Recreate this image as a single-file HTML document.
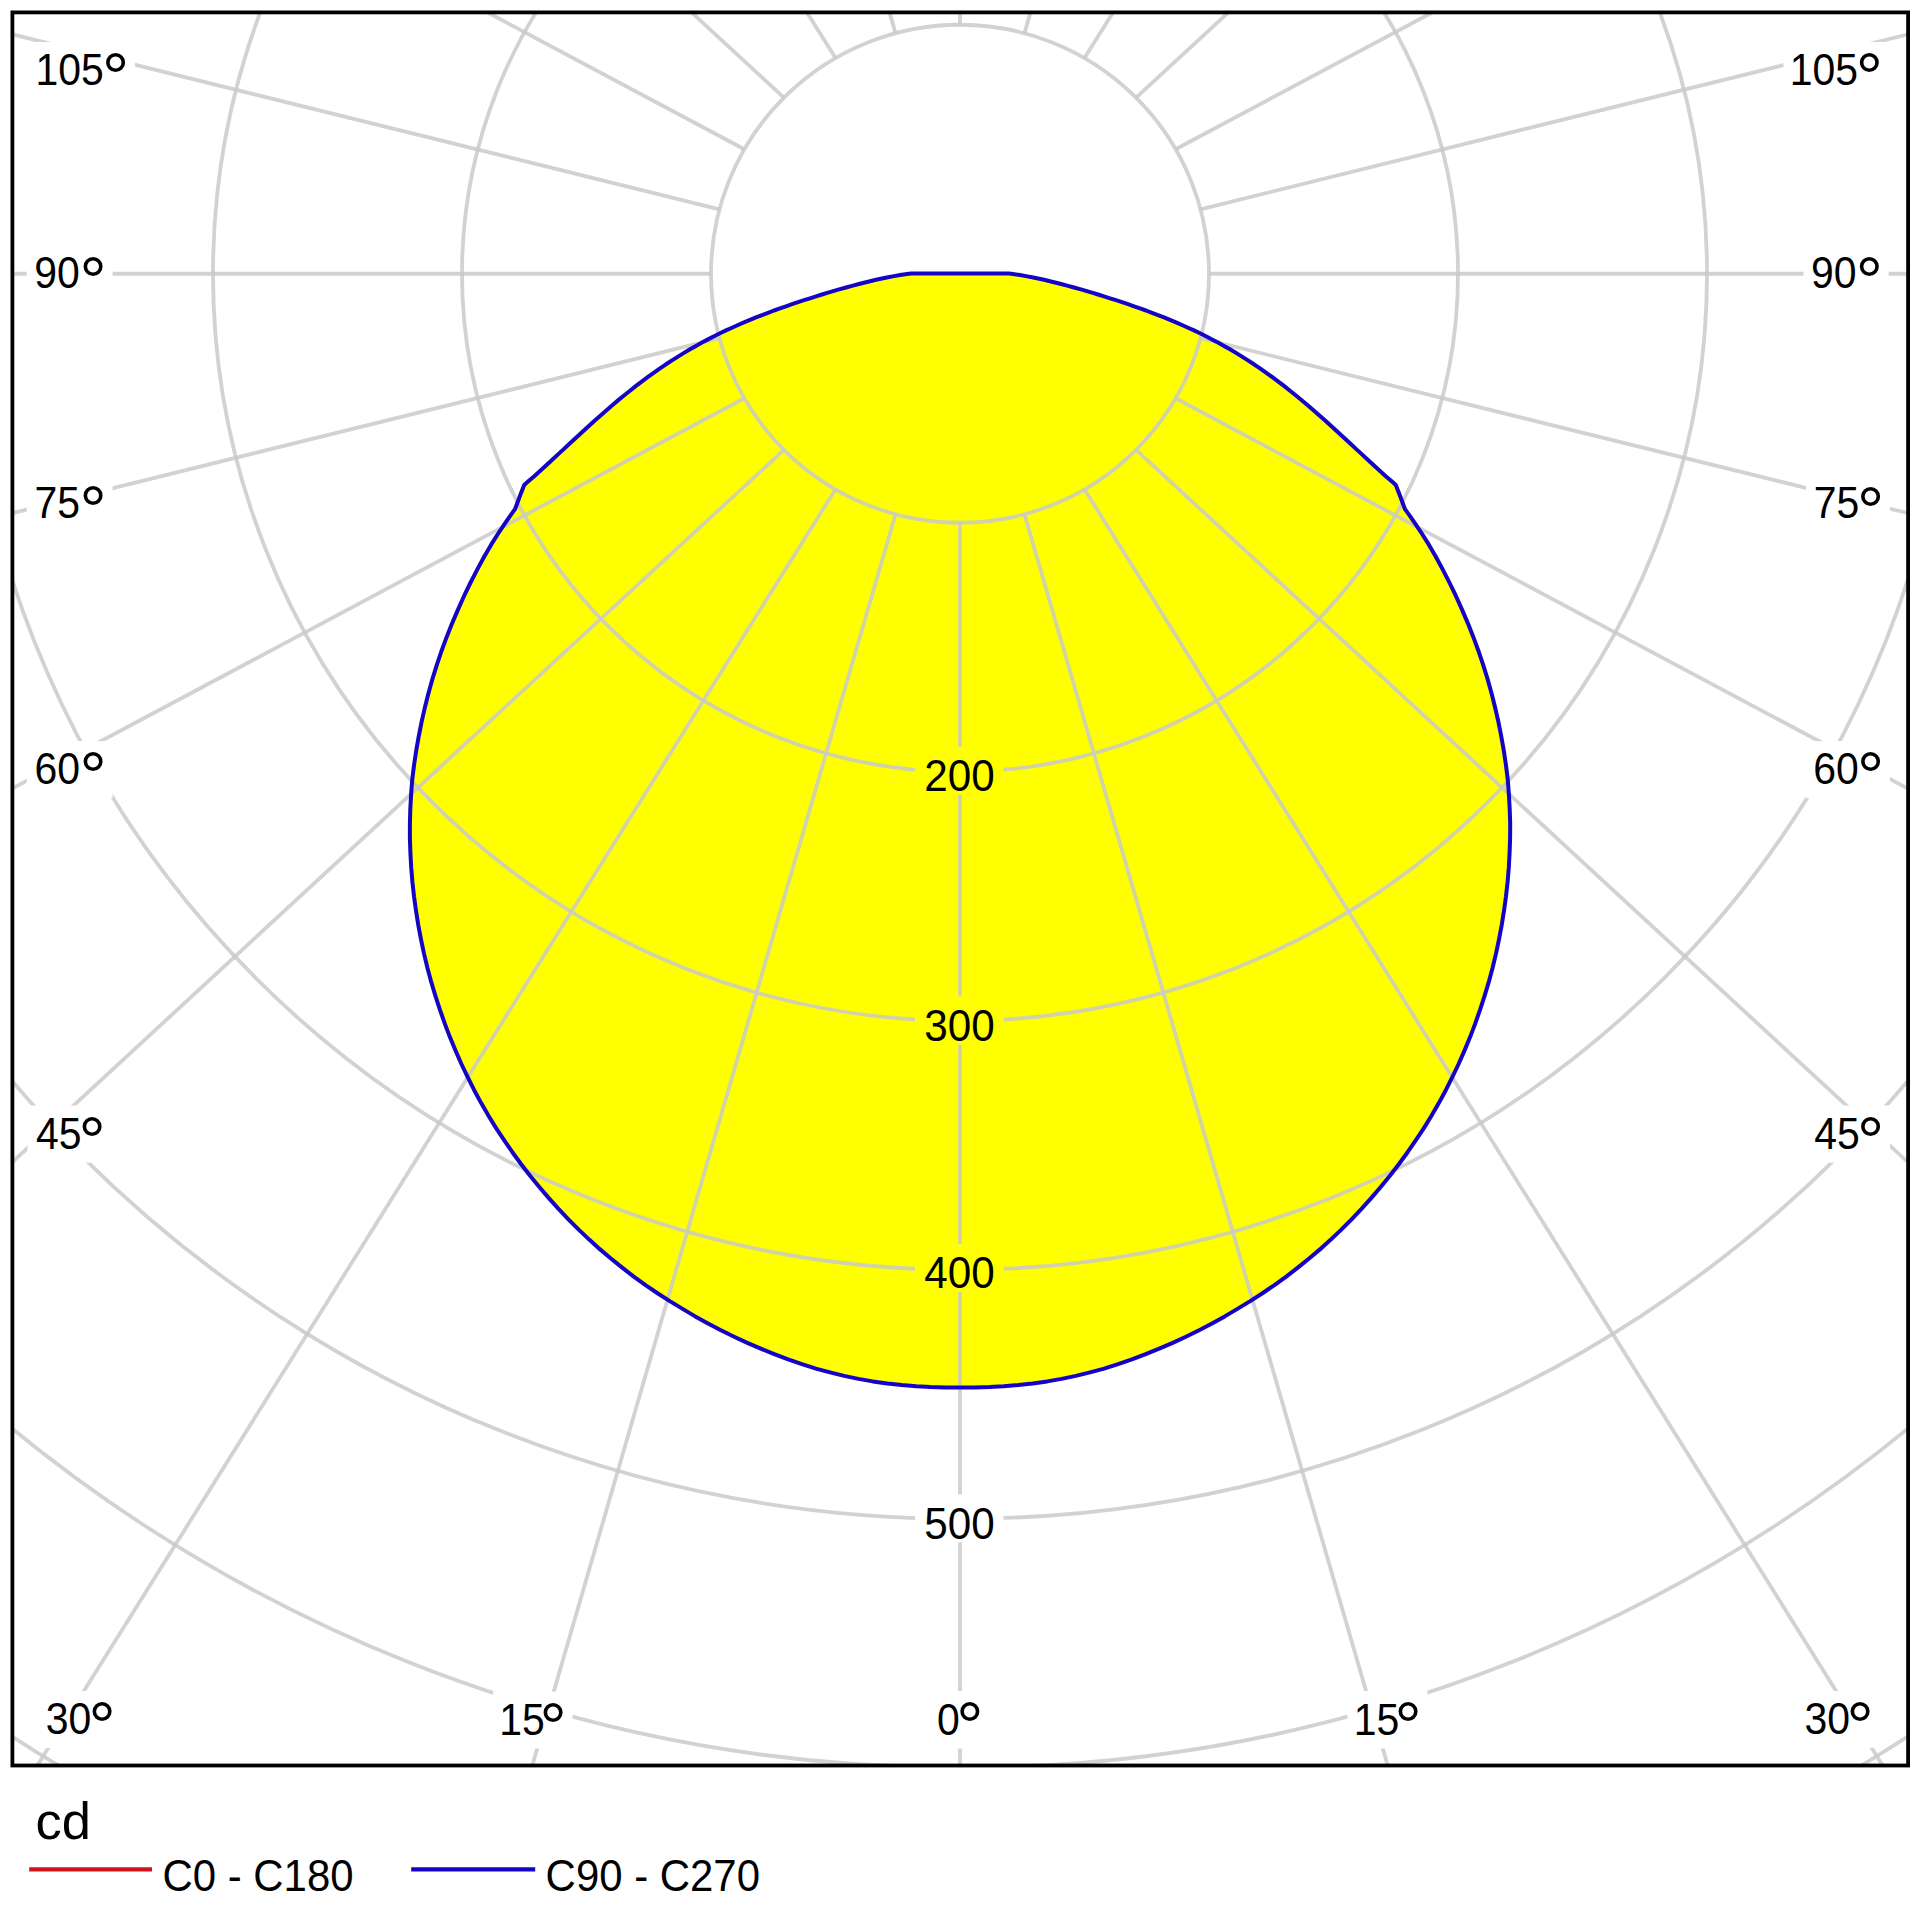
<!DOCTYPE html>
<html lang="en"><head><meta charset="utf-8"><title>Polar light distribution</title>
<style>html,body{margin:0;padding:0;background:#fff}body{width:1920px;height:1920px;overflow:hidden}svg{display:block}text{font-family:"Liberation Sans", sans-serif;fill:#000}</style>
</head><body>
<svg width="1920" height="1920" viewBox="0 0 1920 1920">
<defs>
<clipPath id="fr"><rect x="12.4" y="12.4" width="1895.7" height="1753.1"/></clipPath>
<mask id="lm" maskUnits="userSpaceOnUse" x="0" y="0" width="1920" height="1920"><rect x="0" y="0" width="1920" height="1920" fill="#fff"/>
<rect x="29.2" y="42.0" width="105.8" height="57.0" fill="#000"/>
<rect x="26.8" y="245.5" width="85.8" height="56.6" fill="#000"/>
<rect x="26.8" y="475.3" width="85.8" height="56.8" fill="#000"/>
<rect x="26.8" y="741.1" width="85.8" height="56.8" fill="#000"/>
<rect x="27.4" y="1105.5" width="84.1" height="57.2" fill="#000"/>
<rect x="38.0" y="1691.0" width="83.5" height="57.0" fill="#000"/>
<rect x="493.0" y="1691.5" width="79.5" height="57.0" fill="#000"/>
<rect x="929.2" y="1691.0" width="60.1" height="57.5" fill="#000"/>
<rect x="1347.5" y="1691.0" width="80.0" height="57.5" fill="#000"/>
<rect x="1796.8" y="1691.0" width="82.8" height="56.8" fill="#000"/>
<rect x="1805.5" y="1105.5" width="84.5" height="57.2" fill="#000"/>
<rect x="1805.5" y="741.1" width="84.5" height="56.8" fill="#000"/>
<rect x="1806.1" y="475.5" width="83.9" height="56.4" fill="#000"/>
<rect x="1803.5" y="245.5" width="85.2" height="56.6" fill="#000"/>
<rect x="1783.5" y="42.0" width="105.2" height="57.0" fill="#000"/>
<rect x="915.0" y="746.8" width="88.5" height="48.0" fill="#000"/>
<rect x="915.0" y="996.5" width="88.5" height="48.0" fill="#000"/>
<rect x="915.0" y="1244.2" width="88.5" height="48.0" fill="#000"/>
<rect x="915.0" y="1494.4" width="88.5" height="48.0" fill="#000"/>
</mask></defs>
<rect x="0" y="0" width="1920" height="1920" fill="#fff"/>
<polygon points="910.8,273.5 900.0,275.0 894.0,276.1 888.0,277.2 882.0,278.5 876.0,279.8 870.0,281.2 864.0,282.7 858.0,284.3 852.0,285.9 846.0,287.5 840.0,289.2 834.0,290.9 828.0,292.7 822.0,294.5 816.0,296.4 810.0,298.3 804.0,300.2 798.0,302.2 792.0,304.2 786.0,306.3 780.0,308.4 774.0,310.5 768.0,312.8 762.0,315.1 756.0,317.4 750.0,319.9 744.0,322.4 738.0,325.0 732.0,327.7 726.0,330.4 720.0,333.3 714.0,336.3 708.0,339.4 702.0,342.6 696.0,345.9 690.0,349.3 684.0,352.9 678.0,356.6 672.0,360.4 666.0,364.3 660.0,368.4 654.0,372.6 648.0,376.9 642.0,381.4 636.0,385.9 630.0,390.7 624.0,395.5 618.0,400.4 612.0,405.5 606.0,410.7 600.0,415.9 594.0,421.3 588.0,426.7 582.0,432.2 576.0,437.7 570.0,443.3 564.0,448.9 558.0,454.4 552.0,460.0 546.0,465.5 540.0,471.0 534.0,476.4 528.0,481.6 524.2,485.0 520.0,495.8 515.0,509.2 507.7,519.3 499.3,531.8 491.3,544.4 484.0,557.0 477.2,569.6 470.6,582.5 464.2,595.7 458.2,609.1 452.4,622.6 446.9,636.4 441.8,650.2 437.0,664.3 432.6,678.4 428.6,692.7 425.0,707.0 421.7,721.4 418.8,736.0 416.2,750.7 414.0,765.4 412.2,780.1 411.1,794.7 410.3,809.3 409.9,823.9 409.9,838.4 410.4,852.9 411.2,867.4 412.4,881.9 414.0,896.3 416.0,910.7 418.3,925.1 421.0,939.4 424.0,953.6 427.4,967.8 431.2,981.9 435.4,995.8 439.9,1009.7 444.7,1023.4 449.9,1037.1 455.5,1050.6 461.4,1064.0 467.7,1077.2 474.2,1090.2 481.2,1103.1 488.5,1115.7 496.1,1128.1 504.1,1140.2 512.4,1152.2 521.0,1164.0 529.9,1175.5 539.1,1186.8 548.6,1197.9 558.3,1208.7 568.4,1219.3 578.7,1229.6 589.2,1239.6 600.1,1249.4 611.2,1258.8 622.5,1267.9 634.1,1276.8 645.9,1285.3 657.9,1293.5 670.2,1301.4 682.6,1308.9 695.2,1316.4 708.0,1323.5 720.9,1330.2 734.1,1336.7 747.3,1342.9 760.8,1348.7 774.3,1354.2 788.1,1359.4 801.9,1364.1 815.9,1368.6 830.0,1372.4 844.2,1375.9 858.4,1378.9 872.8,1381.4 887.3,1383.5 901.8,1385.1 916.3,1386.3 930.8,1387.1 945.4,1387.5 960.0,1387.5 960.0,1387.5 960.0,1387.5 974.6,1387.5 989.2,1387.1 1003.7,1386.3 1018.2,1385.1 1032.7,1383.5 1047.2,1381.4 1061.6,1378.9 1075.8,1375.9 1090.0,1372.4 1104.1,1368.6 1118.1,1364.1 1131.9,1359.4 1145.7,1354.2 1159.2,1348.7 1172.7,1342.9 1185.9,1336.7 1199.1,1330.2 1212.0,1323.5 1224.8,1316.4 1237.4,1308.9 1249.8,1301.4 1262.1,1293.5 1274.1,1285.3 1285.9,1276.8 1297.5,1267.9 1308.8,1258.8 1319.9,1249.4 1330.8,1239.6 1341.3,1229.6 1351.6,1219.3 1361.7,1208.7 1371.4,1197.9 1380.9,1186.8 1390.1,1175.5 1399.0,1164.0 1407.6,1152.2 1415.9,1140.2 1423.9,1128.1 1431.5,1115.7 1438.8,1103.1 1445.8,1090.2 1452.3,1077.2 1458.6,1064.0 1464.5,1050.6 1470.1,1037.1 1475.3,1023.4 1480.1,1009.7 1484.6,995.8 1488.8,981.9 1492.6,967.8 1496.0,953.6 1499.0,939.4 1501.7,925.1 1504.0,910.7 1506.0,896.3 1507.6,881.9 1508.8,867.4 1509.6,852.9 1510.1,838.4 1510.2,823.9 1509.7,809.3 1508.9,794.7 1507.8,780.1 1506.0,765.4 1503.8,750.7 1501.2,736.0 1498.3,721.4 1495.0,707.0 1491.4,692.7 1487.4,678.4 1483.0,664.3 1478.2,650.2 1473.1,636.4 1467.6,622.6 1461.8,609.1 1455.8,595.7 1449.4,582.5 1442.8,569.6 1436.0,557.0 1428.7,544.4 1420.7,531.8 1412.3,519.3 1405.0,509.2 1400.0,495.8 1395.8,485.0 1392.0,481.6 1386.0,476.4 1380.0,471.0 1374.0,465.5 1368.0,460.0 1362.0,454.4 1356.0,448.9 1350.0,443.3 1344.0,437.7 1338.0,432.2 1332.0,426.7 1326.0,421.3 1320.0,415.9 1314.0,410.7 1308.0,405.5 1302.0,400.4 1296.0,395.5 1290.0,390.7 1284.0,385.9 1278.0,381.4 1272.0,376.9 1266.0,372.6 1260.0,368.4 1254.0,364.3 1248.0,360.4 1242.0,356.6 1236.0,352.9 1230.0,349.3 1224.0,345.9 1218.0,342.6 1212.0,339.4 1206.0,336.3 1200.0,333.3 1194.0,330.4 1188.0,327.7 1182.0,325.0 1176.0,322.4 1170.0,319.9 1164.0,317.4 1158.0,315.1 1152.0,312.8 1146.0,310.5 1140.0,308.4 1134.0,306.3 1128.0,304.2 1122.0,302.2 1116.0,300.2 1110.0,298.3 1104.0,296.4 1098.0,294.5 1092.0,292.7 1086.0,290.9 1080.0,289.2 1074.0,287.5 1068.0,285.9 1062.0,284.3 1056.0,282.7 1050.0,281.2 1044.0,279.8 1038.0,278.5 1032.0,277.2 1026.0,276.1 1020.0,275.0 1009.2,273.5" fill="#ffff00"/>
<g clip-path="url(#fr)"><g mask="url(#lm)" fill="none" stroke="rgb(202,202,202)" stroke-opacity="0.845" stroke-width="3.8">
<circle cx="960.0" cy="273.75" r="249"/>
<circle cx="960.0" cy="273.75" r="498"/>
<circle cx="960.0" cy="273.75" r="747"/>
<circle cx="960.0" cy="273.75" r="996"/>
<circle cx="960.0" cy="273.75" r="1245"/>
<circle cx="960.0" cy="273.75" r="1494"/>
<circle cx="960.0" cy="273.75" r="1743"/>
<line x1="960.00" y1="522.75" x2="960.0" y2="2922.6"/>
<line x1="895.55" y1="514.27" x2="222.6" y2="2832.3"/>
<line x1="1024.45" y1="514.27" x2="1697.4" y2="2832.3"/>
<line x1="835.50" y1="489.39" x2="-464.5" y2="2567.7"/>
<line x1="1084.50" y1="489.39" x2="2384.5" y2="2567.7"/>
<line x1="783.93" y1="449.82" x2="-1054.5" y2="2146.7"/>
<line x1="1136.07" y1="449.82" x2="2974.5" y2="2146.7"/>
<line x1="744.36" y1="398.25" x2="-1507.3" y2="1598.2"/>
<line x1="1175.64" y1="398.25" x2="3427.3" y2="1598.2"/>
<line x1="719.48" y1="338.20" x2="-1791.9" y2="959.3"/>
<line x1="1200.52" y1="338.20" x2="3711.9" y2="959.3"/>
<line x1="711.00" y1="273.75" x2="-1889.0" y2="273.8"/>
<line x1="1209.00" y1="273.75" x2="3809.0" y2="273.8"/>
<line x1="719.48" y1="209.30" x2="-1791.9" y2="-411.8"/>
<line x1="1200.52" y1="209.30" x2="3711.9" y2="-411.8"/>
<line x1="744.36" y1="149.25" x2="-1507.3" y2="-1050.6"/>
<line x1="1175.64" y1="149.25" x2="3427.3" y2="-1050.6"/>
<line x1="783.93" y1="97.68" x2="-1054.5" y2="-1599.2"/>
<line x1="1136.07" y1="97.68" x2="2974.5" y2="-1599.2"/>
<line x1="835.50" y1="58.11" x2="-464.5" y2="-2020.2"/>
<line x1="1084.50" y1="58.11" x2="2384.5" y2="-2020.2"/>
<line x1="895.55" y1="33.23" x2="222.6" y2="-2284.8"/>
<line x1="1024.45" y1="33.23" x2="1697.4" y2="-2284.8"/>
<line x1="960.00" y1="24.75" x2="960.0" y2="-2375.1"/>
</g></g>
<polygon points="910.8,273.5 900.0,275.0 894.0,276.1 888.0,277.2 882.0,278.5 876.0,279.8 870.0,281.2 864.0,282.7 858.0,284.3 852.0,285.9 846.0,287.5 840.0,289.2 834.0,290.9 828.0,292.7 822.0,294.5 816.0,296.4 810.0,298.3 804.0,300.2 798.0,302.2 792.0,304.2 786.0,306.3 780.0,308.4 774.0,310.5 768.0,312.8 762.0,315.1 756.0,317.4 750.0,319.9 744.0,322.4 738.0,325.0 732.0,327.7 726.0,330.4 720.0,333.3 714.0,336.3 708.0,339.4 702.0,342.6 696.0,345.9 690.0,349.3 684.0,352.9 678.0,356.6 672.0,360.4 666.0,364.3 660.0,368.4 654.0,372.6 648.0,376.9 642.0,381.4 636.0,385.9 630.0,390.7 624.0,395.5 618.0,400.4 612.0,405.5 606.0,410.7 600.0,415.9 594.0,421.3 588.0,426.7 582.0,432.2 576.0,437.7 570.0,443.3 564.0,448.9 558.0,454.4 552.0,460.0 546.0,465.5 540.0,471.0 534.0,476.4 528.0,481.6 524.2,485.0 520.0,495.8 515.0,509.2 507.7,519.3 499.3,531.8 491.3,544.4 484.0,557.0 477.2,569.6 470.6,582.5 464.2,595.7 458.2,609.1 452.4,622.6 446.9,636.4 441.8,650.2 437.0,664.3 432.6,678.4 428.6,692.7 425.0,707.0 421.7,721.4 418.8,736.0 416.2,750.7 414.0,765.4 412.2,780.1 411.1,794.7 410.3,809.3 409.9,823.9 409.9,838.4 410.4,852.9 411.2,867.4 412.4,881.9 414.0,896.3 416.0,910.7 418.3,925.1 421.0,939.4 424.0,953.6 427.4,967.8 431.2,981.9 435.4,995.8 439.9,1009.7 444.7,1023.4 449.9,1037.1 455.5,1050.6 461.4,1064.0 467.7,1077.2 474.2,1090.2 481.2,1103.1 488.5,1115.7 496.1,1128.1 504.1,1140.2 512.4,1152.2 521.0,1164.0 529.9,1175.5 539.1,1186.8 548.6,1197.9 558.3,1208.7 568.4,1219.3 578.7,1229.6 589.2,1239.6 600.1,1249.4 611.2,1258.8 622.5,1267.9 634.1,1276.8 645.9,1285.3 657.9,1293.5 670.2,1301.4 682.6,1308.9 695.2,1316.4 708.0,1323.5 720.9,1330.2 734.1,1336.7 747.3,1342.9 760.8,1348.7 774.3,1354.2 788.1,1359.4 801.9,1364.1 815.9,1368.6 830.0,1372.4 844.2,1375.9 858.4,1378.9 872.8,1381.4 887.3,1383.5 901.8,1385.1 916.3,1386.3 930.8,1387.1 945.4,1387.5 960.0,1387.5 960.0,1387.5 960.0,1387.5 974.6,1387.5 989.2,1387.1 1003.7,1386.3 1018.2,1385.1 1032.7,1383.5 1047.2,1381.4 1061.6,1378.9 1075.8,1375.9 1090.0,1372.4 1104.1,1368.6 1118.1,1364.1 1131.9,1359.4 1145.7,1354.2 1159.2,1348.7 1172.7,1342.9 1185.9,1336.7 1199.1,1330.2 1212.0,1323.5 1224.8,1316.4 1237.4,1308.9 1249.8,1301.4 1262.1,1293.5 1274.1,1285.3 1285.9,1276.8 1297.5,1267.9 1308.8,1258.8 1319.9,1249.4 1330.8,1239.6 1341.3,1229.6 1351.6,1219.3 1361.7,1208.7 1371.4,1197.9 1380.9,1186.8 1390.1,1175.5 1399.0,1164.0 1407.6,1152.2 1415.9,1140.2 1423.9,1128.1 1431.5,1115.7 1438.8,1103.1 1445.8,1090.2 1452.3,1077.2 1458.6,1064.0 1464.5,1050.6 1470.1,1037.1 1475.3,1023.4 1480.1,1009.7 1484.6,995.8 1488.8,981.9 1492.6,967.8 1496.0,953.6 1499.0,939.4 1501.7,925.1 1504.0,910.7 1506.0,896.3 1507.6,881.9 1508.8,867.4 1509.6,852.9 1510.1,838.4 1510.2,823.9 1509.7,809.3 1508.9,794.7 1507.8,780.1 1506.0,765.4 1503.8,750.7 1501.2,736.0 1498.3,721.4 1495.0,707.0 1491.4,692.7 1487.4,678.4 1483.0,664.3 1478.2,650.2 1473.1,636.4 1467.6,622.6 1461.8,609.1 1455.8,595.7 1449.4,582.5 1442.8,569.6 1436.0,557.0 1428.7,544.4 1420.7,531.8 1412.3,519.3 1405.0,509.2 1400.0,495.8 1395.8,485.0 1392.0,481.6 1386.0,476.4 1380.0,471.0 1374.0,465.5 1368.0,460.0 1362.0,454.4 1356.0,448.9 1350.0,443.3 1344.0,437.7 1338.0,432.2 1332.0,426.7 1326.0,421.3 1320.0,415.9 1314.0,410.7 1308.0,405.5 1302.0,400.4 1296.0,395.5 1290.0,390.7 1284.0,385.9 1278.0,381.4 1272.0,376.9 1266.0,372.6 1260.0,368.4 1254.0,364.3 1248.0,360.4 1242.0,356.6 1236.0,352.9 1230.0,349.3 1224.0,345.9 1218.0,342.6 1212.0,339.4 1206.0,336.3 1200.0,333.3 1194.0,330.4 1188.0,327.7 1182.0,325.0 1176.0,322.4 1170.0,319.9 1164.0,317.4 1158.0,315.1 1152.0,312.8 1146.0,310.5 1140.0,308.4 1134.0,306.3 1128.0,304.2 1122.0,302.2 1116.0,300.2 1110.0,298.3 1104.0,296.4 1098.0,294.5 1092.0,292.7 1086.0,290.9 1080.0,289.2 1074.0,287.5 1068.0,285.9 1062.0,284.3 1056.0,282.7 1050.0,281.2 1044.0,279.8 1038.0,278.5 1032.0,277.2 1026.0,276.1 1020.0,275.0 1009.2,273.5" fill="none" stroke="rgb(20,4,198)" stroke-width="4.0" stroke-linejoin="round"/>
<text x="35.47" y="85.20" font-size="44.5"><tspan textLength="68.31" lengthAdjust="spacingAndGlyphs">105</tspan><tspan x="101.88" y="101.10" font-size="68">°</tspan></text>
<text x="34.20" y="288.30" font-size="44.5"><tspan textLength="45.54" lengthAdjust="spacingAndGlyphs">90</tspan><tspan x="79.38" y="304.60" font-size="68">°</tspan></text>
<text x="34.41" y="518.30" font-size="44.5"><tspan textLength="45.54" lengthAdjust="spacingAndGlyphs">75</tspan><tspan x="79.38" y="534.40" font-size="68">°</tspan></text>
<text x="34.41" y="784.10" font-size="44.5"><tspan textLength="45.54" lengthAdjust="spacingAndGlyphs">60</tspan><tspan x="79.38" y="800.20" font-size="68">°</tspan></text>
<text x="36.08" y="1148.90" font-size="44.5"><tspan textLength="45.54" lengthAdjust="spacingAndGlyphs">45</tspan><tspan x="78.38" y="1164.60" font-size="68">°</tspan></text>
<text x="45.66" y="1734.20" font-size="44.5"><tspan textLength="45.54" lengthAdjust="spacingAndGlyphs">30</tspan><tspan x="88.38" y="1750.10" font-size="68">°</tspan></text>
<text x="499.22" y="1734.70" font-size="44.5"><tspan textLength="45.54" lengthAdjust="spacingAndGlyphs">15</tspan><tspan x="539.38" y="1750.60" font-size="68">°</tspan></text>
<text x="937.11" y="1734.70" font-size="44.5"><tspan textLength="22.77" lengthAdjust="spacingAndGlyphs">0</tspan><tspan x="956.28" y="1750.10" font-size="68">°</tspan></text>
<text x="1353.72" y="1734.70" font-size="44.5"><tspan textLength="45.54" lengthAdjust="spacingAndGlyphs">15</tspan><tspan x="1394.38" y="1750.10" font-size="68">°</tspan></text>
<text x="1804.41" y="1734.00" font-size="44.5"><tspan textLength="45.54" lengthAdjust="spacingAndGlyphs">30</tspan><tspan x="1846.48" y="1750.10" font-size="68">°</tspan></text>
<text x="1814.18" y="1148.90" font-size="44.5"><tspan textLength="45.54" lengthAdjust="spacingAndGlyphs">45</tspan><tspan x="1856.88" y="1164.60" font-size="68">°</tspan></text>
<text x="1813.16" y="784.10" font-size="44.5"><tspan textLength="45.54" lengthAdjust="spacingAndGlyphs">60</tspan><tspan x="1856.88" y="800.20" font-size="68">°</tspan></text>
<text x="1813.76" y="518.10" font-size="44.5"><tspan textLength="45.54" lengthAdjust="spacingAndGlyphs">75</tspan><tspan x="1856.88" y="534.60" font-size="68">°</tspan></text>
<text x="1810.95" y="288.30" font-size="44.5"><tspan textLength="45.54" lengthAdjust="spacingAndGlyphs">90</tspan><tspan x="1855.63" y="304.60" font-size="68">°</tspan></text>
<text x="1789.72" y="85.20" font-size="44.5"><tspan textLength="68.31" lengthAdjust="spacingAndGlyphs">105</tspan><tspan x="1855.63" y="101.10" font-size="68">°</tspan></text>
<text transform="translate(959.50,791.00) scale(0.935,1)" font-size="45.2" text-anchor="middle">200</text>
<text transform="translate(959.50,1040.70) scale(0.935,1)" font-size="45.2" text-anchor="middle">300</text>
<text transform="translate(959.50,1288.45) scale(0.935,1)" font-size="45.2" text-anchor="middle">400</text>
<text transform="translate(959.50,1538.60) scale(0.935,1)" font-size="45.2" text-anchor="middle">500</text>
<rect x="12.4" y="12.4" width="1895.7" height="1753.1" fill="none" stroke="#000" stroke-width="3.8"/>
<text x="35.4" y="1838.6" font-size="52.5">cd</text>
<line x1="29.2" y1="1869.4" x2="152" y2="1869.4" stroke="rgb(208,18,30)" stroke-width="4.4"/>
<text transform="translate(162.5,1890.6) scale(0.953,1)" font-size="44">C0 - C180</text>
<line x1="411.2" y1="1869.4" x2="535.2" y2="1869.4" stroke="rgb(20,4,198)" stroke-width="4.4"/>
<text transform="translate(545.6,1890.6) scale(0.953,1)" font-size="44">C90 - C270</text>
</svg></body></html>
